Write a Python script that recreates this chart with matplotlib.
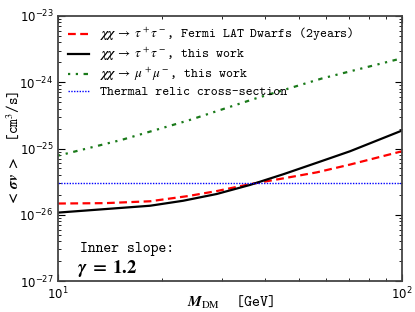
import numpy as np
import matplotlib
matplotlib.use('Agg')
import matplotlib.pyplot as plt
from matplotlib.ticker import NullFormatter, FixedLocator

plt.rcParams['mathtext.fontset'] = 'cm'
plt.rcParams['axes.unicode_minus'] = False

# masses in GeV, <sigma v> in cm^3/s
m_red = [10, 13.7, 18.5, 23.9, 28.9, 36.1, 45.2, 56.5, 70.6, 100]
sv_red = [1.48e-26, 1.50e-26, 1.60e-26, 1.92e-26, 2.28e-26, 2.9e-26, 3.55e-26, 4.37e-26, 5.73e-26, 9.1e-26]

m_black = [10, 13.7, 18.5, 23.1, 28.9, 36.1, 45.2, 56.5, 70.6, 100]
sv_black = [1.08e-26, 1.22e-26, 1.37e-26, 1.63e-26, 2.06e-26, 2.82e-26, 4.1e-26, 6.1e-26, 9.1e-26, 1.87e-25]

m_green = [10, 15.3, 23.9, 37.4, 58.5, 100]
sv_green = [7.8e-26, 1.35e-25, 2.65e-25, 5.66e-25, 1.14e-24, 2.3e-24]

thermal = 3e-26

x_major = [10, 100]
y_major = [1e-27, 1e-26, 1e-25, 1e-24, 1e-23]

tt = 'cmtt10'
mf = 'stix'

fig = plt.figure(figsize=(4.15, 3.12), dpi=100)
ax = fig.add_axes([0.14, 0.099, 0.829, 0.85])

ax.plot(m_red, sv_red, color='red', ls=(0, (3.5, 2)), lw=1.6,
        label=r'$\boldsymbol{\chi\chi}\ \rightarrow\ \boldsymbol{\tau^+\tau^-}$, Fermi LAT Dwarfs (2years)')
ax.plot(m_black, sv_black, color='black', lw=1.6,
        label=r'$\boldsymbol{\chi\chi}\ \rightarrow\ \boldsymbol{\tau^+\tau^-}$, this work')
ax.plot(m_green, sv_green, color='#1a7a1a', ls=(0, (1, 2.5, 1, 2.5, 2, 2.5)), lw=1.6,
        label=r'$\boldsymbol{\chi\chi}\ \rightarrow\ \boldsymbol{\mu^+\mu^-}$, this work')
ax.axhline(thermal, color='blue', ls=(0, (1, 1)), lw=1.0,
           label='Thermal relic cross-section')

ax.set_xscale('log')
ax.set_yscale('log')
ax.set_xlim(10, 100)
ax.set_ylim(1e-27, 1e-23)
ax.xaxis.set_major_locator(FixedLocator(x_major))
ax.yaxis.set_major_locator(FixedLocator(y_major))
ax.xaxis.set_minor_formatter(NullFormatter())
ax.yaxis.set_minor_formatter(NullFormatter())

ax.tick_params(which='both', direction='in', top=True, right=True, labelsize=8.5)
ax.tick_params(which='major', length=5)
ax.tick_params(which='minor', length=2.5)
for s in ax.spines.values():
    s.set_linewidth(1.3)
    s.set_color('#444444')

ax.set_xlabel(r'$\boldsymbol{M}_{\rm DM}$  [GeV]', fontsize=11, family=tt, math_fontfamily=mf)
ax.xaxis.set_label_coords(0.5, -0.05)
ax.set_ylabel(r'$\boldsymbol{<\ \sigma v\ >}$  [cm$^3$/s]', fontsize=10.5, family=tt, math_fontfamily=mf)
ax.yaxis.set_label_coords(-0.105, 0.5)

leg = ax.legend(loc='upper left', frameon=False, prop={'family': tt, 'size': 9.5, 'math_fontfamily': mf},
                handlelength=1.6, handletextpad=0.8, labelspacing=0.2, borderaxespad=0.35)

ax.text(0.064, 0.11, 'Inner slope:', transform=ax.transAxes, family=tt, fontsize=10.8)
ax.text(0.055, 0.03, r'$\boldsymbol{\gamma\ =\ 1.2}$', transform=ax.transAxes, fontsize=13.5, math_fontfamily=mf)

fig.savefig('out.png', dpi=100)
